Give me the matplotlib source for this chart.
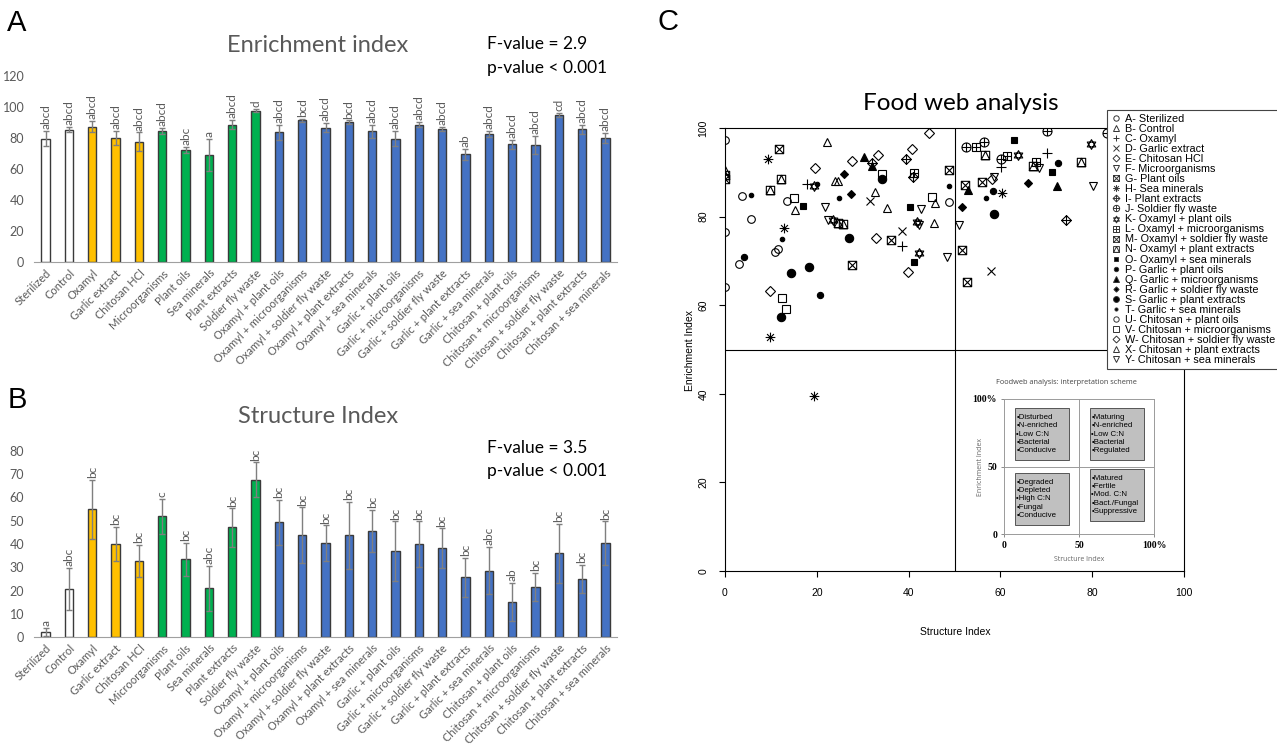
import numpy as np
import matplotlib
matplotlib.use("Agg")
import matplotlib.pyplot as plt
from matplotlib.path import Path
from matplotlib.lines import Line2D
from matplotlib.patches import Rectangle

# ---------------- data: panels A and B ----------------
treatments = ["Sterilized", "Control", "Oxamyl", "Garlic extract", "Chitosan HCl",
              "Microorganisms", "Plant oils", "Sea minerals", "Plant extracts",
              "Soldier fly waste", "Oxamyl + plant oils", "Oxamyl + microorganisms",
              "Oxamyl + soldier fly waste", "Oxamyl + plant extracts",
              "Oxamyl + sea minerals", "Garlic + plant oils", "Garlic + microorganisms",
              "Garlic + soldier fly waste", "Garlic + plant extracts",
              "Garlic + sea minerals", "Chitosan + plant oils",
              "Chitosan + microorganisms", "Chitosan + soldier fly waste",
              "Chitosan + plant extracts", "Chitosan + sea minerals"]
groups = ["none"] * 2 + ["single_chem"] * 3 + ["single_bio"] * 5 + ["combo"] * 15

ei_mean = [79.6, 85.4, 87.3, 80.0, 77.6, 84.7, 72.3, 69.0, 88.6, 97.6, 83.7, 91.4,
           86.7, 90.1, 84.3, 79.6, 88.6, 86.0, 69.5, 82.6, 76.0, 75.5, 94.8, 85.6, 80.0]
ei_err = [5.0, 1.5, 3.5, 4.3, 6.0, 2.0, 2.0, 10.4, 3.0, 1.0, 4.7, 1.0,
          3.0, 1.2, 4.0, 5.0, 1.5, 1.2, 3.5, 2.0, 3.0, 6.0, 1.5, 3.0, 3.0]
ei_letters = ["abcd", "abcd", "abcd", "abcd", "abcd", "abcd", "abc", "a", "abcd", "d",
              "abcd", "bcd", "abcd", "bcd", "abcd", "abcd", "abcd", "abcd", "ab", "abcd",
              "abcd", "abcd", "cd", "abcd", "abcd"]

si_mean = [2.3, 20.6, 55.0, 40.0, 32.7, 51.9, 33.4, 21.0, 47.1, 67.7, 49.4, 43.7,
           40.3, 43.7, 45.6, 37.0, 39.9, 38.1, 25.7, 28.6, 15.1, 21.6, 36.0, 25.0, 40.3]
si_err = [1.7, 9.2, 12.7, 7.4, 7.0, 7.5, 7.2, 9.7, 8.2, 7.4, 9.7, 12.0,
          7.7, 14.3, 9.0, 12.7, 9.8, 8.6, 8.4, 10.1, 8.3, 6.1, 12.6, 6.0, 9.4]
si_letters = ["a", "abc", "bc", "bc", "bc", "c", "bc", "abc", "bc", "bc",
              "bc", "bc", "bc", "bc", "bc", "bc", "bc", "bc", "bc", "abc",
              "ab", "bc", "bc", "bc", "bc"]

# ---------------- data: panel C (structure index, enrichment index) ----------------
fw_labels = ["A- Sterilized", "B- Control", "C- Oxamyl", "D- Garlic extract",
             "E- Chitosan HCl", "F- Microorganisms", "G- Plant oils", "H- Sea minerals",
             "I- Plant extracts", "J- Soldier fly waste", "K- Oxamyl + plant oils",
             "L- Oxamyl + microorganisms", "M- Oxamyl + soldier fly waste",
             "N- Oxamyl + plant extracts", "O- Oxamyl + sea minerals",
             "P- Garlic + plant oils", "Q- Garlic + microorganisms",
             "R- Garlic + soldier fly waste", "S- Garlic + plant extracts",
             "T- Garlic + sea minerals", "U- Chitosan + plant oils",
             "V- Chitosan + microorganisms", "W- Chitosan + soldier fly waste",
             "X- Chitosan + plant extracts", "Y- Chitosan + sea minerals"]
fw_si = [
    [0.1, 0.0, 0.0, 3.8, 5.6],
    [0.0, 22.2, 15.3, 32.7],
    [17.9, 38.6, 60.1, 70.1],
    [31.6, 38.5, 58.0],
    [19.6, 9.7, 33.0, 39.9],
    [21.8, 22.4, 42.2, 51.0],
    [0.0, 11.8, 48.7, 52.8, 36.1],
    [9.3, 12.9, 9.7, 19.4, 60.3],
    [39.4, 41.0, 74.3, 32.0],
    [52.5, 56.4, 60.1, 70.1, 83.2],
    [19.4, 23.6, 41.8, 42.2, 63.8, 79.7],
    [54.7, 61.4, 67.8, 41.1],
    [27.7, 52.3, 56.1, 51.7],
    [0.0, 9.7, 12.2, 24.6, 25.6, 56.7, 67.1, 77.5],
    [17.1, 40.2, 41.2, 63.0, 71.2],
    [4.1, 20.6, 58.3, 72.5],
    [30.3, 32.0, 53.0, 72.3],
    [26.0, 27.4, 51.6, 66.1],
    [14.3, 18.4, 12.2, 27.0, 34.1, 58.7],
    [5.6, 12.5, 20.0, 24.8, 48.7, 56.9],
    [3.1, 10.9, 11.6, 13.6, 48.7],
    [15.0, 12.4, 13.2, 34.3, 45.2],
    [27.6, 33.4, 40.7, 44.5, 58.1],
    [24.0, 24.6, 35.4, 45.8, 45.6],
    [42.8, 48.3, 58.6, 68.4, 80.1],
]
fw_ei = [
    [97.3, 76.6, 64.2, 84.6, 79.4],
    [90.5, 96.8, 81.5, 85.6],
    [87.4, 73.4, 91.3, 94.3],
    [83.6, 76.8, 67.7],
    [90.9, 63.3, 75.2, 67.4],
    [82.2, 79.2, 78.0, 78.1],
    [88.5, 95.2, 90.5, 65.3, 74.7],
    [92.9, 77.5, 52.9, 39.6, 85.3],
    [93.1, 89.0, 79.2, 92.2],
    [95.8, 96.8, 92.9, 99.3, 98.8],
    [87.0, 79.2, 78.8, 71.7, 93.9, 96.3],
    [95.6, 93.7, 92.3, 89.8],
    [69.1, 87.1, 87.7, 72.5],
    [89.5, 86.0, 88.6, 78.6, 78.3, 93.9, 91.4, 92.4],
    [82.5, 82.1, 69.8, 97.4, 90.0],
    [70.9, 62.3, 85.8, 92.0],
    [93.4, 91.5, 86.0, 87.0],
    [89.6, 85.1, 82.1, 87.5],
    [67.3, 68.7, 57.3, 75.2, 88.4, 80.6],
    [84.9, 74.9, 87.4, 84.2, 86.9, 84.3],
    [69.2, 72.1, 72.6, 83.6, 83.4],
    [84.2, 61.7, 59.1, 89.6, 84.5],
    [92.6, 93.9, 95.2, 98.9, 88.6],
    [88.1, 88.0, 81.9, 83.0, 78.6],
    [81.7, 70.9, 89.0, 90.9, 86.8],
]

scheme_text = [["•Disturbed", "•N-enriched", "•Low C:N", "•Bacterial", "•Conducive"],
               ["•Maturing", "•N-enriched", "•Low C:N", "•Bacterial", "•Regulated"],
               ["•Degraded", "•Depleted", "•High C:N", "•Fungal", "•Conducive"],
               ["•Matured", "•Fertile", "•Mod. C:N", "•Bact./Fungal", "•Suppressive"]]

# ---------------- styles ----------------
group_colors = {"none": "white", "single_chem": "#FFC000",
                "single_bio": "#00B050", "combo": "#4472C4"}
gray_txt = "#595959"
excel_font = "Lato"
r_font = "Liberation Sans"


def segs(lines):
    verts, codes = [], []
    for (x0, y0), (x1, y1) in lines:
        verts += [(x0, y0), (x1, y1)]
        codes += [Path.MOVETO, Path.LINETO]
    return Path(verts, codes)


def poly(pts):
    pts = list(pts) + [pts[0]]
    return Path(pts, [Path.MOVETO] + [Path.LINETO] * (len(pts) - 2) + [Path.CLOSEPOLY])


sq_in = poly([(-.8, -.8), (.8, -.8), (.8, .8), (-.8, .8)])
circ = Path.unit_circle()
diam = poly([(0, 1), (1, 0), (0, -1), (-1, 0)])
plus = segs([((-1, 0), (1, 0)), ((0, -1), (0, 1))])
cross = segs([((-.707, -.707), (.707, .707)), ((-.707, .707), (.707, -.707))])
cross_sq = segs([((-.8, -.8), (.8, .8)), ((-.8, .8), (.8, -.8))])
plus_sq = segs([((-.8, 0), (.8, 0)), ((0, -.8), (0, .8))])
aster = Path.make_compound_path(plus, cross)
star_david = Path.make_compound_path(poly([(0, 1), (-.87, -.5), (.87, -.5)]),
                                     poly([(0, -1), (-.87, .5), (.87, .5)]))
sq_tri = Path.make_compound_path(sq_in, poly([(-.8, -.8), (0, .8), (.8, -.8)]))

# marker, size, filled
pch = [("o", 5.5, False), ("^", 6, False), ("+", 7, False), ("x", 5.5, False),
       ("D", 5, False), ("v", 6, False),
       (Path.make_compound_path(sq_in, cross_sq), 6, False), (aster, 7, False),
       (Path.make_compound_path(diam, plus), 7, False),
       (Path.make_compound_path(circ, plus), 6.5, False), (star_david, 7, False),
       (Path.make_compound_path(sq_in, plus_sq), 6, False),
       (Path.make_compound_path(sq_in, cross_sq), 6, False), (sq_tri, 6, False),
       ("s", 5, True), ("o", 4.5, True), ("^", 6, True), ("D", 3.8, True),
       ("o", 6, True), ("o", 3.2, True),
       ("o", 5.5, False), ("s", 5.5, False), ("D", 5, False), ("^", 6, False),
       ("v", 6, False)]

fig = plt.figure(figsize=(12.77, 7.47), dpi=100)
W, H = 1277.0, 747.0


def fx(px):
    return px / W


def fy(py):
    return 1 - py / H


def bar_panel(rect, means, errs, letters, ymax, ystep, title, fval, ytitle, yf, yp):
    ax = fig.add_axes(rect)
    x = np.arange(len(treatments))
    cols = [group_colors[g] for g in groups]
    ax.bar(x, means, width=0.36, color=cols, edgecolor="#3a3a3a", linewidth=1.0, zorder=2)
    ax.errorbar(x, means, yerr=errs, fmt="none", ecolor="#7f7f7f", elinewidth=1.0,
                capsize=2.5, capthick=1.0, zorder=3)
    for i, (m, e, lab) in enumerate(zip(means, errs, letters)):
        ax.text(i, m + e + ymax * 0.01, lab, rotation=90, ha="center", va="bottom",
                fontsize=8.5, color=gray_txt, family=excel_font)
    ax.set_xlim(-0.5, 24.5)
    ax.set_ylim(0, ymax)
    ax.set_yticks(np.arange(0, ymax + 1, ystep))
    ax.set_xticks(x)
    ax.set_xticklabels(treatments, rotation=45, ha="right", rotation_mode="anchor",
                       fontsize=8, color=gray_txt, family=excel_font)
    ax.tick_params(axis="y", length=0, labelsize=9, labelcolor=gray_txt, pad=7)
    ax.tick_params(axis="x", length=0, pad=4)
    for s in ["top", "right", "left"]:
        ax.spines[s].set_visible(False)
    ax.spines["bottom"].set_color("#a0a0a0")
    for t in ax.get_yticklabels():
        t.set_family(excel_font)
    fig.text(fx(318), fy(ytitle), title, ha="center", va="center", fontsize=17,
             color="#595959", family=excel_font)
    fig.text(fx(487), fy(yf), fval, ha="left", va="center", fontsize=12.5,
             color="black", family=excel_font)
    fig.text(fx(487), fy(yp), "p-value < 0.001", ha="left", va="center",
             fontsize=12.5, color="black", family=excel_font)
    return ax


bar_panel([fx(34), fy(262), fx(617) - fx(34), fy(76) - fy(262)],
          ei_mean, ei_err, ei_letters, 120, 20, "Enrichment index", "F-value = 2.9",
          45, 44, 68)
bar_panel([fx(34), fy(637), fx(617) - fx(34), fy(451) - fy(637)],
          si_mean, si_err, si_letters, 80, 10, "Structure Index", "F-value = 3.5",
          417, 448, 471)

fig.text(fx(17), fy(23), "A", fontsize=21, ha="center", va="center", family=r_font)
fig.text(fx(17), fy(400), "B", fontsize=21, ha="center", va="center", family=r_font)
fig.text(fx(668), fy(22), "C", fontsize=21, ha="center", va="center", family=r_font)

# ---------------- panel C ----------------
axc = fig.add_axes([fx(725), fy(571), fx(1184) - fx(725), fy(128) - fy(571)])
handles = []
for i in range(len(fw_labels)):
    m, ms, filled = pch[i]
    fc = "black" if filled else "none"
    axc.plot(fw_si[i], fw_ei[i], ls="none", marker=m, ms=ms, mfc=fc, mec="black",
             mew=0.8, zorder=3)
    handles.append(Line2D([], [], ls="none", marker=m, ms=ms * 0.7, mfc=fc,
                          mec="#333333", mew=0.7))
axc.axvline(50, color="black", lw=0.8, zorder=1)
axc.axhline(50, color="black", lw=0.8, zorder=1)
axc.set_xlim(0, 100)
axc.set_ylim(0, 100)
axc.set_xticks(np.arange(0, 101, 20))
axc.set_yticks(np.arange(0, 101, 20))
axc.tick_params(labelsize=7.5, length=4, width=0.8, pad=8)
for t in axc.get_yticklabels():
    t.set_rotation(90)
    t.set_va("center")
for t in axc.get_xticklabels() + axc.get_yticklabels():
    t.set_family(r_font)
for s in axc.spines.values():
    s.set_linewidth(0.8)
fig.text(fx(955), fy(632), "Structure Index", ha="center", va="center",
         fontsize=7.5, family=r_font)
fig.text(fx(690), fy(350), "Enrichment Index", ha="center", va="center",
         fontsize=7.5, rotation=90, family=r_font)
fig.text(fx(961), fy(104), "Food web analysis", ha="center", va="center",
         fontsize=17.5, family=excel_font)

leg = axc.legend(handles, fw_labels, loc="upper left",
                 bbox_to_anchor=(fx(1107), fy(110)), bbox_transform=fig.transFigure,
                 borderaxespad=0, fancybox=False, framealpha=1, edgecolor="#444444",
                 prop={"family": r_font, "size": 7.8}, handlelength=0.9,
                 handletextpad=0.4, labelspacing=0.005, borderpad=0.35)
leg.get_frame().set_linewidth(0.8)
leg.set_zorder(10)

# ---------------- inset interpretation scheme ----------------
fig.text(fx(1066), fy(382), "Foodweb analysis: interpretation scheme", ha="center",
         va="center", fontsize=5.3, color="#444444", family="Open Sans")
axi = fig.add_axes([fx(1004), fy(534), fx(1154) - fx(1004), fy(399) - fy(534)])
axi.set_xlim(0, 100)
axi.set_ylim(0, 100)
axi.axvline(50, color="#9a9a9a", lw=0.7)
axi.axhline(50, color="#9a9a9a", lw=0.7)
box_pos = [(7, 55), (57, 55), (7, 7), (57, 10)]
for (bx, by), lines in zip(box_pos, scheme_text):
    axi.add_patch(Rectangle((bx, by), 36, 38, facecolor="#c0c0c0",
                            edgecolor="#555555", lw=0.7))
    axi.text(bx + 1.2, by + 19, "\n".join(lines), ha="left", va="center",
             fontsize=5.7, family=r_font, linespacing=1.25)
axi.set_xticks([0, 50, 100])
axi.set_yticks([0, 50, 100])
axi.set_xticklabels(["0", "50", "100%"])
axi.set_yticklabels(["0", "50", "100%"])
axi.tick_params(length=2, width=0.6, color="#777777", labelsize=7, pad=3)
for t in axi.get_xticklabels() + axi.get_yticklabels():
    t.set_family("Liberation Serif")
    t.set_weight("bold")
for s in axi.spines.values():
    s.set_color("#9a9a9a")
    s.set_linewidth(0.7)
axi.set_xlabel("Structure Index", fontsize=5, color="#666666", family="Open Sans")
axi.set_ylabel("Enrichment Index", fontsize=5, color="#666666", family="Open Sans")
axi.xaxis.set_label_coords(0.5, -0.16)
axi.yaxis.set_label_coords(-0.13, 0.5)

fig.savefig("out.png", dpi=100)
